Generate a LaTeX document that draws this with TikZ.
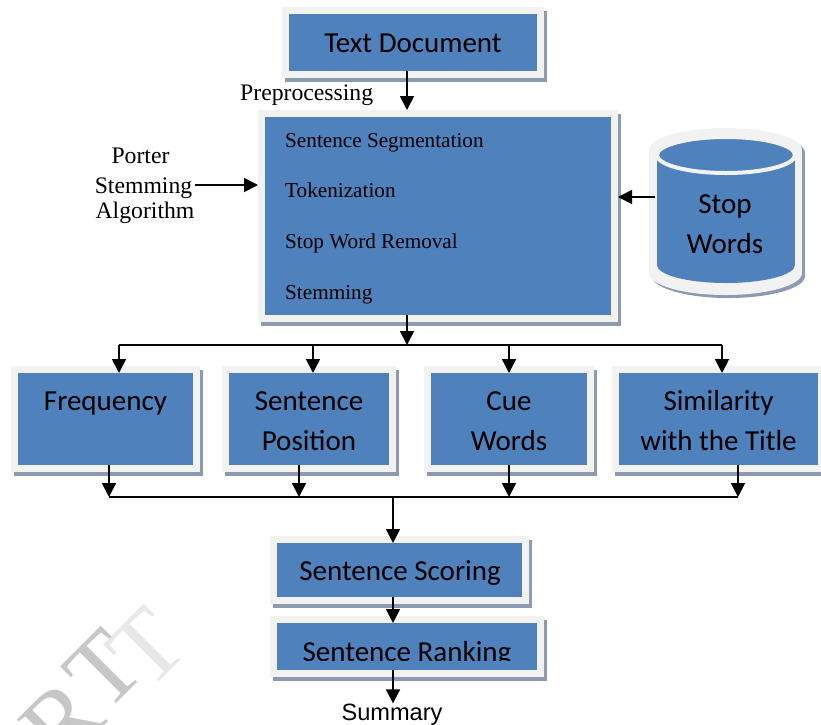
\documentclass[tikz,border=0pt]{standalone}
\usepackage{fontspec}
\setmainfont{Liberation Serif}
\newfontfamily\calfont{Carlito}
\newfontfamily\arialfont{Liberation Sans}
\usetikzlibrary{arrows.meta}
\definecolor{boxblue}{RGB}{79,129,189}
\definecolor{framec}{RGB}{242,242,242}
\definecolor{shadowc}{RGB}{140,155,178}
\tikzset{
  bluebox/.style={fill=boxblue, inner sep=0pt, outer sep=0pt, draw=none},
  framebox/.style={fill=framec, inner sep=0pt, outer sep=0pt, draw=none},
  arr/.style={line width=1.8pt, -{Triangle[length=14pt,width=14pt]}},
  busline/.style={line width=1.8pt},
  caltext/.style={font=\calfont\fontsize{29}{35}\selectfont, inner sep=0pt, anchor=base},
  tmtext/.style={font=\fontsize{23.7}{28}\selectfont, inner sep=0pt, anchor=base},
  listtext/.style={font=\fontsize{21.2}{25}\selectfont, inner sep=0pt, anchor=base west},
  wmark/.style={rotate=45, font=\fontsize{100}{100}\selectfont, inner sep=0pt},
}
% name, x1, y1, x2, y2 (inner blue rectangle, pixel coordinates)
\newcommand\shbox[5]{%
  \fill[shadowc] ({#2-7+3},{#3-7+4}) rectangle ({#4+7+3},{#5+7+4});
  \node[framebox, minimum width={#4-#2+14}, minimum height={#5-#3+14}] (#1-f) at ({(#2+#4)/2},{(#3+#5)/2}) {};
  \node[bluebox, minimum width={#4-#2}, minimum height={#5-#3}] (#1) at ({(#2+#4)/2},{(#3+#5)/2}) {};
}
\begin{document}
\begin{tikzpicture}[x=1pt,y=-1pt]
\useasboundingbox (0,0) rectangle (821,724);

% watermark
\begin{scope}
  \clip (0,0) rectangle (821,724);
  \node[wmark, text=black!9] (wm3) at (147,648) {T};
  \node[wmark, text=black!22] (wm1) at (62,722) {R};
  \node[wmark, text=black!22] (wm2) at (104,670) {T};
\end{scope}

% boxes
\shbox{td}{289}{14}{537}{71}
\shbox{main}{265}{117}{611}{315}
\shbox{fq}{18}{373}{193}{465}
\shbox{sp}{229}{373}{389}{465}
\shbox{cw}{431}{373}{587}{465}
\shbox{sim}{619}{373}{818}{465}
\shbox{sc}{277}{543}{522}{597}
\shbox{rk}{277}{623}{537}{670}

% box texts
\node[caltext] (td-t) at (413,52) {Text Document};
\node[listtext] (l1) at (285,147) {Sentence Segmentation};
\node[listtext] (l2) at (285,197) {Tokenization};
\node[listtext] (l3) at (285,248) {Stop Word Removal};
\node[listtext] (l4) at (285,299) {Stemming};
\node[caltext] (fq-t) at (105.5,410) {Frequency};
\node[caltext] (sp-t1) at (309,410) {Sentence};
\node[caltext] (sp-t2) at (309,450) {Position};
\node[caltext] (cw-t1) at (509,410) {Cue};
\node[caltext] (cw-t2) at (509,450) {Words};
\node[caltext] (sim-t1) at (718.5,410) {Similarity};
\node[caltext] (sim-t2) at (718.5,450) {with the Title};
\node[caltext] (sc-t) at (400,580) {Sentence Scoring};
\begin{scope}
  \clip (277,600) rectangle (537,660);
  \node[caltext] (rk-t) at (407,661) {Sentence Ranking};
\end{scope}

% stop words cylinder
\fill[shadowc] (652,153) rectangle (805,276);
\fill[shadowc] (728.5,153) ellipse [x radius=76.5, y radius=22];
\fill[shadowc] (728.5,276) ellipse [x radius=76.5, y radius=22];
\fill[framec] (649,150) rectangle (802,273);
\fill[framec] (725.5,150) ellipse [x radius=76.5, y radius=22];
\fill[framec] (725.5,273) ellipse [x radius=76.5, y radius=22];
\fill[boxblue] (657,155) rectangle (795,265);
\fill[boxblue] (726,265) ellipse [x radius=69, y radius=18];
\filldraw[fill=boxblue, draw=framec, line width=4pt] (726,155) ellipse [x radius=69, y radius=18];
\coordinate (stopw) at (726,220);
\node[caltext] (sw-t1) at (725,213) {Stop};
\node[caltext] (sw-t2) at (725,253) {Words};

% side texts
\node[tmtext, anchor=base west] (pre) at (240,100) {Preprocessing};
\node[tmtext] (po1) at (140.5,163) {Porter};
\node[tmtext] (po2) at (143.5,193) {Stemming};
\node[tmtext] (po3) at (145,218) {Algorithm};
\node[font=\arialfont\fontsize{23.6}{28}\selectfont, inner sep=0pt, anchor=base] (sum) at (392,720) {Summary};

% connector coordinates
\coordinate (j1) at (407,345);
\coordinate (t1) at (119,345);
\coordinate (t2) at (313,345);
\coordinate (t3) at (509,345);
\coordinate (t4) at (722,345);
\coordinate (j2) at (393,497);
\coordinate (b1) at (109,497);
\coordinate (b2) at (299,497);
\coordinate (b3) at (509,497);
\coordinate (b4) at (738,497);
\coordinate (pa) at (195,185);
\coordinate (sa) at (655,197);

% connectors
\draw[arr] (td.south -| j1) -- (main-f.north -| j1);
\draw[arr] (pa) -- (main-f.west |- pa);
\draw[arr] (sa) -- (main-f.east |- sa);
\draw[arr] (main.south -| j1) -- (j1);
\draw[busline] (t1) -- (t4);
\draw[arr] (t1) -- (fq.north -| t1);
\draw[arr] (t2) -- (sp.north -| t2);
\draw[arr] (t3) -- (cw.north -| t3);
\draw[arr] (t4) -- (sim.north -| t4);
\draw[arr] (fq.south -| b1) -- (b1);
\draw[arr] (sp.south -| b2) -- (b2);
\draw[arr] (cw.south -| b3) -- (b3);
\draw[arr] (sim.south -| b4) -- (b4);
\draw[busline] (b1) -- (b4);
\draw[arr] (j2) -- (sc.north -| j2);
\draw[arr] (sc.south -| j2) -- (rk.north -| j2);
\draw[arr] (rk.south -| j2) -- (sum.north -| j2);
\end{tikzpicture}
\end{document}
